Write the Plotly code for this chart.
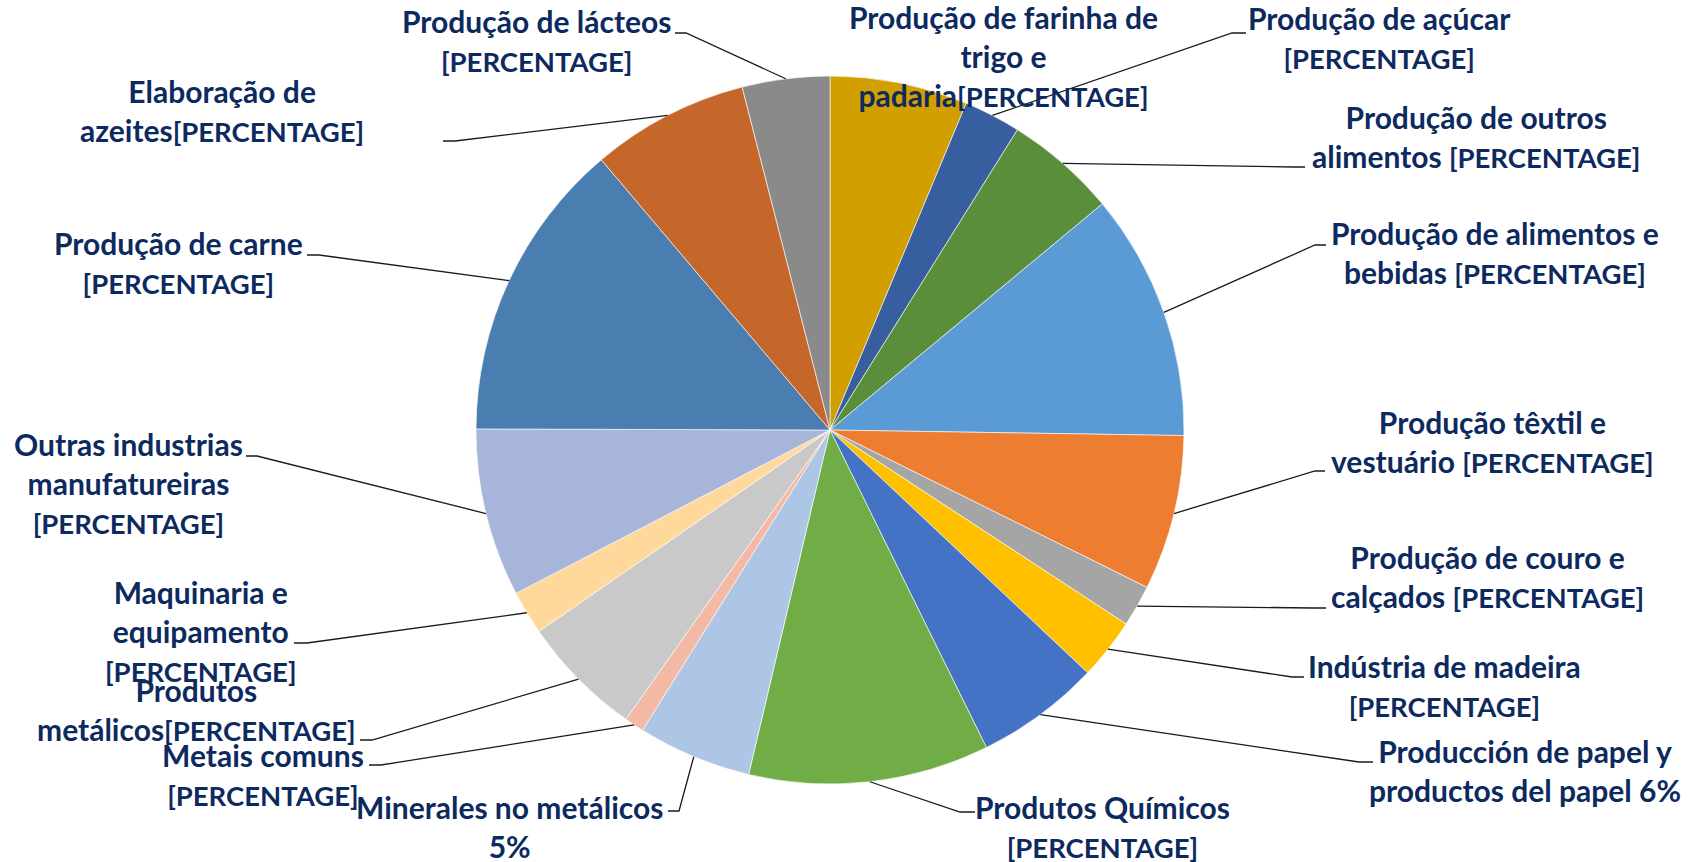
import math
import plotly.graph_objects as go

W, H = 1694, 862

# ---- data ----
sectors = [
    "Produção de farinha de trigo e padaria", "Produção de açúcar",
    "Produção de outros alimentos", "Produção de alimentos e bebidas",
    "Produção têxtil e vestuário", "Produção de couro e calçados",
    "Indústria de madeira", "Producción de papel y productos del papel",
    "Produtos Químicos", "Minerales no metálicos", "Metais comuns",
    "Produtos metálicos", "Maquinaria e equipamento",
    "Outras industrias manufatureiras", "Produção de carne",
    "Elaboração de azeites", "Produção de lácteos",
]
shares = [6.3, 2.6, 5.1, 11.3, 7.1, 1.9, 2.8, 5.7, 11.0, 5.2, 0.9, 5.6, 2.0,
          7.7, 13.8, 7.2, 4.0]
label_texts = [
    "Produção de farinha de<br>trigo e<br>padaria[PERCENTAGE]",
    "Produção de açúcar<br>[PERCENTAGE]",
    "Produção de outros<br>alimentos [PERCENTAGE]",
    "Produção de alimentos e<br>bebidas [PERCENTAGE]",
    "Produção têxtil e<br>vestuário [PERCENTAGE]",
    "Produção de couro e<br>calçados [PERCENTAGE]",
    "Indústria de madeira<br>[PERCENTAGE]",
    "Producción de papel y<br>productos del papel 6%",
    "Produtos Químicos<br>[PERCENTAGE]",
    "Minerales no metálicos<br>5%",
    "Metais comuns<br>[PERCENTAGE]",
    "Produtos<br>metálicos[PERCENTAGE]",
    "Maquinaria e<br>equipamento<br>[PERCENTAGE]",
    "Outras industrias<br>manufatureiras<br>[PERCENTAGE]",
    "Produção de carne<br>[PERCENTAGE]",
    "Elaboração de<br>azeites[PERCENTAGE]",
    "Produção de lácteos<br>[PERCENTAGE]",
]
colors = ["#D29F00", "#375E9F", "#5A8E3B", "#5B9BD5", "#ED7D31", "#A5A5A5",
          "#FFC000", "#4472C4", "#70AD47", "#ADC6E6", "#F4B9A5", "#C9C9C9",
          "#FFD99B", "#A8B5DA", "#4A7EB0", "#C5672A", "#8A8A8A"]

# ---- layout: label block centres (px) and leader anchors (px, stub length) ----
label_pos = [(1003, 56), (1379, 37), (1476, 136), (1495, 253), (1492, 441),
             (1487, 576), (1444, 685), (1525, 770), (1102, 826), (509, 826),
             (263, 774), (196, 709), (201, 631), (128, 483), (178, 263),
             (222, 110), (536, 40)]
leader_anchor = [None, (1246, 33, -14), (1305, 167, -12), (1326, 245, -11),
                 (1325, 471, -10), (1326, 608, -12), (1304, 677, -12),
                 (1373, 762, -14), (975, 812, -15), (668, 811, 11),
                 (369, 765, 12), (360, 740, 12), (294, 643, 13),
                 (246, 456, 11), (307, 255, 12), (443, 141, 12), (675, 33, 11)]

CX, CY, R = 830, 430, 354  # pie centre / radius in px
TEXT_COLOR = "#0D2A5F"
FONT = "Lato, 'Open Sans', sans-serif"
CAPS_SPAN = '<span style="font-size:27.5px">[PERCENTAGE]</span>'

def px(x):
    return x / W

def py(y):
    return 1 - y / H

fig = go.Figure()
fig.add_trace(go.Pie(
    labels=sectors, values=shares, sort=False, direction="clockwise",
    rotation=0, textinfo="none", hoverinfo="label+percent",
    marker=dict(colors=colors, line=dict(color="white", width=0.6)),
    domain=dict(x=[px(CX - R), px(CX + R)], y=[py(CY + R), py(CY - R)]),
    showlegend=False,
))

total = sum(shares)
shapes = []
annotations = []
cum = 0.0
for i, v in enumerate(shares):
    mid = (cum + v / 2) / total * 2 * math.pi
    cum += v
    ex = CX + R * math.sin(mid)
    ey = CY - R * math.cos(mid)
    anc = leader_anchor[i]
    if anc is not None:
        ax, ay, stub = anc
        path = f"M {px(ax)},{py(ay)} L {px(ax + stub)},{py(ay)} L {px(ex)},{py(ey)}"
        shapes.append(dict(type="path", xref="paper", yref="paper", path=path,
                           line=dict(color="#1A1A1A", width=1.3), layer="above"))
    lx, ly = label_pos[i]
    annotations.append(dict(
        x=px(lx), y=py(ly), xref="paper", yref="paper",
        text=label_texts[i].replace("[PERCENTAGE]", CAPS_SPAN),
        showarrow=False, xanchor="center", yanchor="middle", align="center",
        font=dict(family=FONT, size=30, color=TEXT_COLOR, weight="bold"),
    ))

fig.update_layout(
    width=W, height=H, margin=dict(l=0, r=0, t=0, b=0),
    paper_bgcolor="white", plot_bgcolor="white",
    shapes=shapes, annotations=annotations,
)

fig.write_html("out.html", config={"displayModeBar": False},
               post_script="document.body.style.margin='0';")
